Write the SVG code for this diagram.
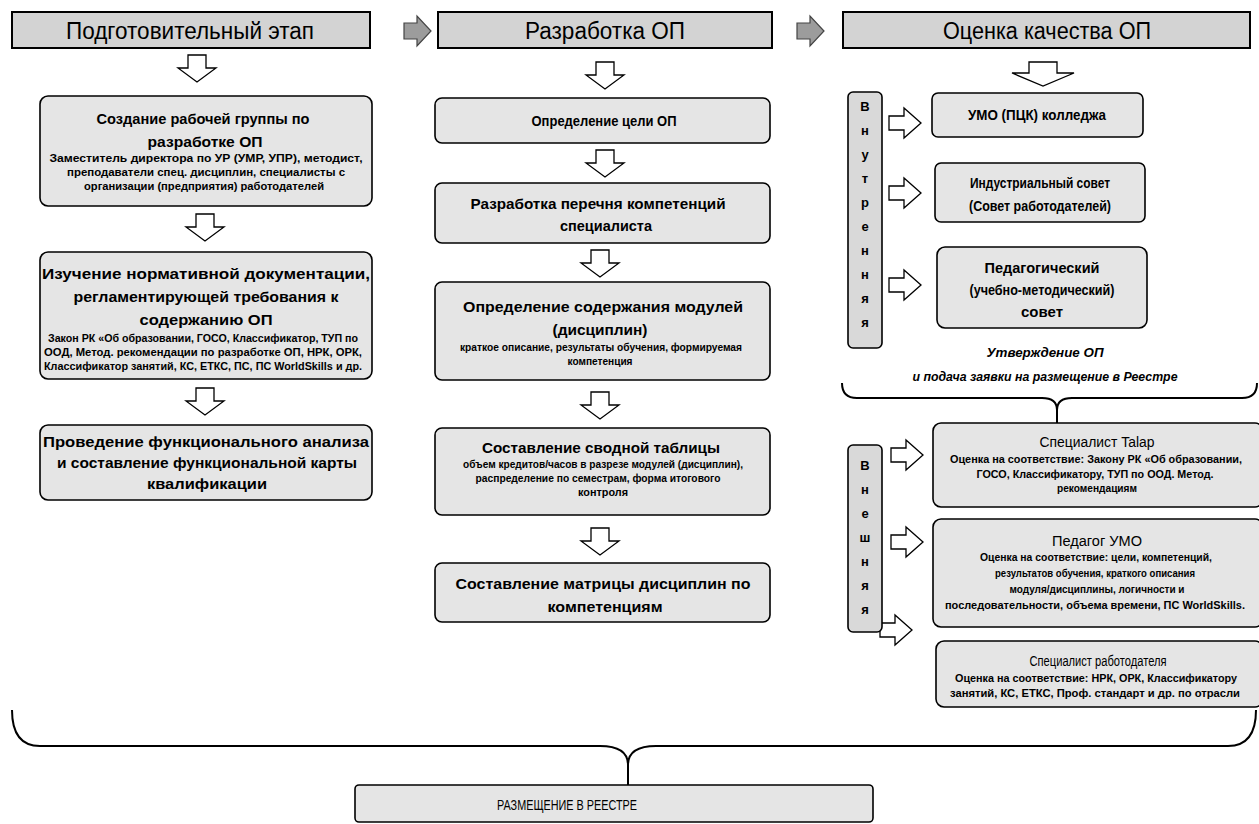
<svg xmlns="http://www.w3.org/2000/svg" xmlns:xlink="http://www.w3.org/1999/xlink" width="1259" height="824" viewBox="0 0 1259 824">
<style>
text{font-family:"Liberation Sans",Arial,sans-serif;fill:#000;text-anchor:middle}
.hd{font-size:23px}
.t{font-size:15px;font-weight:bold}
.s{font-size:10px;font-weight:bold}
.r{font-size:14px}
.i{font-size:13px;font-weight:bold;font-style:italic}
.v{font-size:13px;font-weight:bold}
.hbox{fill:#d3d3d3;stroke:#000;stroke-width:2}
.box{fill:#e5e5e5;stroke:#000;stroke-width:1.6}
.vbox{fill:#d9d9d9;stroke:#000;stroke-width:1.6}
.ar{fill:#fff;stroke:#000;stroke-width:1.3}
.gar{fill:#9c9c9c;stroke:#444;stroke-width:1.2}
.ln{fill:none;stroke:#000;stroke-width:2}
</style>
<defs>
<path id="dn" d="M-9,0 H9 V13 H19 L0,27 L-19,13 H-9 Z"/>
<path id="dnw" d="M-14,0 H14 V11 H31 L0,24 L-31,11 H-14 Z"/>
<path id="rt" d="M0,-7 H15 V-15 L32,0 L15,15 V7 H0 Z"/>
<path id="grt" d="M0,-8 H13 V-15 L27,0 L13,15 V8 H0 Z"/>
</defs>

<g id="connectors">
<use href="#grt" class="gar" x="404" y="31"/>
<use href="#grt" class="gar" x="797" y="31"/>
<use href="#dn" class="ar" x="197" y="55"/>
<use href="#dn" class="ar" x="205" y="214"/>
<use href="#dn" class="ar" x="205" y="388"/>
<use href="#dn" class="ar" x="605" y="62"/>
<use href="#dn" class="ar" x="605" y="150"/>
<use href="#dn" class="ar" x="600" y="250"/>
<use href="#dn" class="ar" x="600" y="392"/>
<use href="#dn" class="ar" x="600" y="528"/>
<use href="#dnw" class="ar" x="1043" y="62"/>
<use href="#rt" class="ar" x="889" y="123"/>
<use href="#rt" class="ar" x="889" y="193"/>
<use href="#rt" class="ar" x="889" y="285"/>
<use href="#rt" class="ar" x="891" y="455"/>
<use href="#rt" class="ar" x="891" y="542"/>
<use href="#rt" class="ar" x="880" y="630"/>
<path class="ln" d="M842,383 Q842,398 857,398 H1042 Q1057,398 1057,410 Q1057,398 1072,398 H1242 Q1257,398 1257,383"/>
<path class="ln" d="M1057,410 V423"/>
<path class="ln" d="M12,710 Q12,746 40,746 H600 Q628,746 628,765 Q628,746 656,746 H1228 Q1256,746 1256,710"/>
<path class="ln" d="M628,765 V785"/>
</g>

<g id="h1"><rect class="hbox" x="12" y="12" width="358" height="36"/><text class="hd" x="190" y="39" textLength="248" lengthAdjust="spacingAndGlyphs">Подготовительный этап</text></g>
<g id="h2"><rect class="hbox" x="438" y="12" width="334" height="36"/><text class="hd" x="605" y="39" textLength="160" lengthAdjust="spacingAndGlyphs">Разработка ОП</text></g>
<g id="h3"><rect class="hbox" x="843" y="12" width="407" height="36"/><text class="hd" x="1047" y="39" textLength="208" lengthAdjust="spacingAndGlyphs">Оценка качества ОП</text></g>

<g id="l1"><rect class="box" x="40" y="96" width="332" height="110" rx="8"/>
<text class="t" x="203" y="124" textLength="213" lengthAdjust="spacingAndGlyphs">Создание рабочей группы по</text>
<text class="t" x="205" y="147" textLength="115" lengthAdjust="spacingAndGlyphs">разработке ОП</text>
<text class="s" x="206" y="162" textLength="313" lengthAdjust="spacingAndGlyphs">Заместитель директора по УР (УМР, УПР), методист,</text>
<text class="s" x="206" y="176" textLength="278" lengthAdjust="spacingAndGlyphs">преподаватели спец. дисциплин, специалисты с</text>
<text class="s" x="204" y="190" textLength="240" lengthAdjust="spacingAndGlyphs">организации (предприятия) работодателей</text></g>

<g id="l2"><rect class="box" x="40" y="252" width="332" height="127" rx="8"/>
<text class="t" x="206" y="279" textLength="328" lengthAdjust="spacingAndGlyphs">Изучение нормативной документации,</text>
<text class="t" x="206" y="302" textLength="265" lengthAdjust="spacingAndGlyphs">регламентирующей требования к</text>
<text class="t" x="206" y="325" textLength="133" lengthAdjust="spacingAndGlyphs">содержанию ОП</text>
<text class="s" x="203" y="342" textLength="310" lengthAdjust="spacingAndGlyphs">Закон РК «Об образовании, ГОСО, Классификатор, ТУП по</text>
<text class="s" x="203" y="356" textLength="318" lengthAdjust="spacingAndGlyphs">ООД, Метод. рекомендации по разработке ОП, НРК, ОРК,</text>
<text class="s" x="203" y="370" textLength="318" lengthAdjust="spacingAndGlyphs">Классификатор занятий, КС, ЕТКС, ПС, ПС WorldSkills и др.</text></g>

<g id="l3"><rect class="box" x="40" y="425" width="332" height="75" rx="8"/>
<text class="t" x="206" y="447" textLength="326" lengthAdjust="spacingAndGlyphs">Проведение функционального анализа</text>
<text class="t" x="207" y="468" textLength="300" lengthAdjust="spacingAndGlyphs">и составление функциональной карты</text>
<text class="t" x="207" y="489" textLength="120" lengthAdjust="spacingAndGlyphs">квалификации</text></g>

<g id="m1"><rect class="box" x="435" y="98" width="335" height="45" rx="7"/>
<text class="t" x="604" y="126" textLength="145" lengthAdjust="spacingAndGlyphs">Определение цели ОП</text></g>

<g id="m2"><rect class="box" x="435" y="183" width="335" height="60" rx="7"/>
<text class="t" x="598" y="209" textLength="255" lengthAdjust="spacingAndGlyphs">Разработка перечня компетенций</text>
<text class="t" x="606" y="231" textLength="92" lengthAdjust="spacingAndGlyphs">специалиста</text></g>

<g id="m3"><rect class="box" x="435" y="282" width="335" height="98" rx="7"/>
<text class="t" x="603" y="312" textLength="280" lengthAdjust="spacingAndGlyphs">Определение содержания модулей</text>
<text class="t" x="600" y="335" textLength="95" lengthAdjust="spacingAndGlyphs">(дисциплин)</text>
<text class="s" x="601" y="351" textLength="282" lengthAdjust="spacingAndGlyphs">краткое описание, результаты обучения, формируемая</text>
<text class="s" x="600" y="365" textLength="65" lengthAdjust="spacingAndGlyphs">компетенция</text></g>

<g id="m4"><rect class="box" x="435" y="428" width="335" height="87" rx="7"/>
<text class="t" x="601" y="453" textLength="238" lengthAdjust="spacingAndGlyphs">Составление сводной таблицы</text>
<text class="s" x="603" y="468" textLength="280" lengthAdjust="spacingAndGlyphs">объем кредитов/часов в разрезе модулей (дисциплин),</text>
<text class="s" x="598" y="482" textLength="245" lengthAdjust="spacingAndGlyphs">распределение по семестрам, форма итогового</text>
<text class="s" x="603" y="496" textLength="50" lengthAdjust="spacingAndGlyphs">контроля</text></g>

<g id="m5"><rect class="box" x="435" y="563" width="335" height="59" rx="7"/>
<text class="t" x="603" y="589" textLength="295" lengthAdjust="spacingAndGlyphs">Составление матрицы дисциплин по</text>
<text class="t" x="605" y="612" textLength="115" lengthAdjust="spacingAndGlyphs">компетенциям</text></g>

<g id="vin"><rect class="vbox" x="848" y="92" width="34" height="256" rx="5"/>
<text class="v" x="865" y="111">В</text><text class="v" x="865" y="135">н</text><text class="v" x="865" y="159">у</text><text class="v" x="865" y="183">т</text><text class="v" x="865" y="207">р</text><text class="v" x="865" y="231">е</text><text class="v" x="865" y="255">н</text><text class="v" x="865" y="279">н</text><text class="v" x="865" y="303">я</text><text class="v" x="865" y="327">я</text></g>

<g id="r1"><rect class="box" x="932" y="93" width="211" height="44" rx="6"/>
<text class="t" x="1037" y="120" textLength="138" lengthAdjust="spacingAndGlyphs">УМО (ПЦК) колледжа</text></g>

<g id="r2"><rect class="box" x="935" y="163" width="210" height="59" rx="6"/>
<text class="t" x="1040" y="188" textLength="140" lengthAdjust="spacingAndGlyphs">Индустриальный совет</text>
<text class="t" x="1040" y="211" textLength="142" lengthAdjust="spacingAndGlyphs">(Совет работодателей)</text></g>

<g id="r3"><rect class="box" x="937" y="247" width="210" height="81" rx="8"/>
<text class="t" x="1042" y="273" textLength="115" lengthAdjust="spacingAndGlyphs">Педагогический</text>
<text class="t" x="1042" y="295" textLength="145" lengthAdjust="spacingAndGlyphs">(учебно-методический)</text>
<text class="t" x="1042" y="317" textLength="42" lengthAdjust="spacingAndGlyphs">совет</text></g>

<g id="approve">
<text class="i" x="1045" y="357" textLength="117" lengthAdjust="spacingAndGlyphs">Утверждение ОП</text>
<text class="i" x="1045" y="381" textLength="265" lengthAdjust="spacingAndGlyphs">и подача заявки на размещение в Реестре</text></g>

<g id="vex"><rect class="vbox" x="848" y="445" width="34" height="187" rx="5"/>
<text class="v" x="865" y="470">В</text><text class="v" x="865" y="494">н</text><text class="v" x="865" y="518">е</text><text class="v" x="865" y="542">ш</text><text class="v" x="865" y="566">н</text><text class="v" x="865" y="590">я</text><text class="v" x="865" y="614">я</text></g>

<g id="e1"><rect class="box" x="933" y="423" width="330" height="84" rx="8"/>
<text class="r" x="1097" y="447" textLength="115" lengthAdjust="spacingAndGlyphs">Специалист Talap</text>
<text class="s" x="1096" y="463" textLength="292" lengthAdjust="spacingAndGlyphs">Оценка на соответствие: Закону РК «Об образовании,</text>
<text class="s" x="1095" y="478" textLength="237" lengthAdjust="spacingAndGlyphs">ГОСО, Классификатору, ТУП по ООД. Метод.</text>
<text class="s" x="1097" y="492" textLength="80" lengthAdjust="spacingAndGlyphs">рекомендациям</text></g>

<g id="e2"><rect class="box" x="933" y="519" width="330" height="108" rx="8"/>
<text class="r" x="1097" y="546" textLength="90" lengthAdjust="spacingAndGlyphs">Педагог УМО</text>
<text class="s" x="1096" y="561" textLength="232" lengthAdjust="spacingAndGlyphs">Оценка на соответствие: цели, компетенций,</text>
<text class="s" x="1095" y="577" textLength="200" lengthAdjust="spacingAndGlyphs">результатов обучения, краткого описания</text>
<text class="s" x="1097" y="593" textLength="175" lengthAdjust="spacingAndGlyphs">модуля/дисциплины, логичности и</text>
<text class="s" x="1095" y="609" textLength="300" lengthAdjust="spacingAndGlyphs">последовательности, объема времени, ПС WorldSkills.</text></g>

<g id="e3"><rect class="box" x="936" y="641" width="327" height="66" rx="8"/>
<text class="r" x="1098" y="666" textLength="137" lengthAdjust="spacingAndGlyphs">Специалист работодателя</text>
<text class="s" x="1096" y="682" textLength="282" lengthAdjust="spacingAndGlyphs">Оценка на соответствие: НРК, ОРК, Классификатору</text>
<text class="s" x="1095" y="697" textLength="290" lengthAdjust="spacingAndGlyphs">занятий, КС, ЕТКС, Проф. стандарт и др. по отрасли</text></g>

<g id="final"><rect class="box" x="355" y="785" width="518" height="37" rx="4"/>
<text class="r" x="567" y="810" textLength="140" lengthAdjust="spacingAndGlyphs">РАЗМЕЩЕНИЕ В РЕЕСТРЕ</text></g>
</svg>
